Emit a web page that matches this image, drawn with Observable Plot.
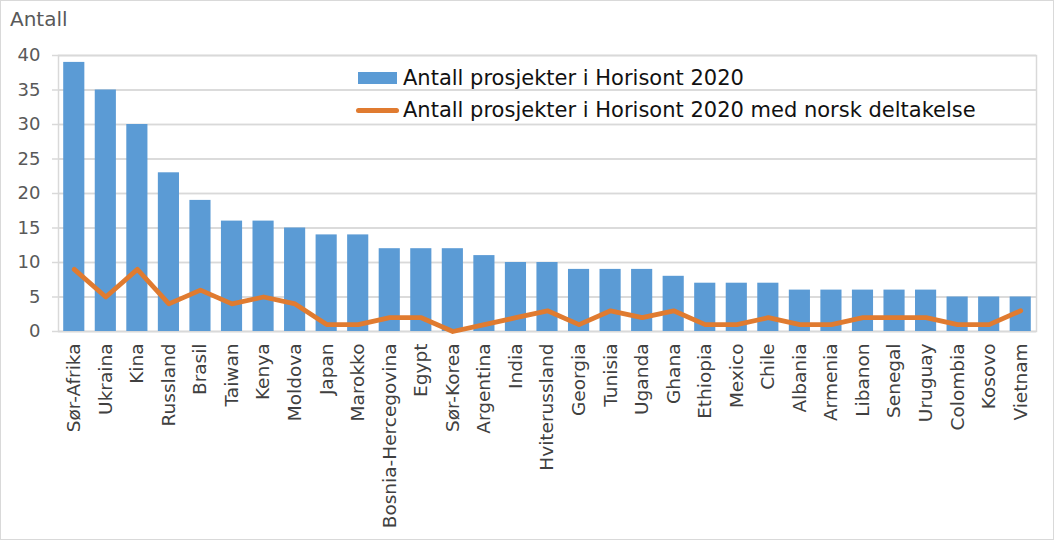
<!DOCTYPE html>
<html><head><meta charset="utf-8">
<script src="https://cdn.jsdelivr.net/npm/d3@7"></script>
<script src="https://cdn.jsdelivr.net/npm/@observablehq/plot@0.6"></script>
<style>
body{margin:0;background:#fff;}
#wrap{position:relative;width:1054px;height:540px;overflow:hidden;font-family:"DejaVu Sans",Verdana,sans-serif;background:#fff;}
#frame{position:absolute;left:0;top:0;right:0;bottom:0;border:1px solid #d9d9d9;pointer-events:none;}
#chart{position:absolute;left:0;top:0;}
#ylab{position:absolute;left:10px;top:7px;font-size:20px;color:#595959;}
#legend{position:absolute;left:356px;top:62px;font-size:21px;color:#111;}
.item{display:flex;align-items:center;height:32px;white-space:nowrap;}
.sw{width:39px;height:12px;background:#5B9BD5;margin-left:2px;margin-right:6px;}
.ln{width:43px;height:5px;border-radius:3px;background:#E07B30;margin-right:4px;}
</style></head>
<body>
<div id="wrap">
  <div id="chart"></div>
  <div id="ylab">Antall</div>
  <div id="legend"></div>
  <div id="frame"></div>
</div>
<script>
const countries = ["Sør-Afrika","Ukraina","Kina","Russland","Brasil","Taiwan","Kenya","Moldova","Japan","Marokko","Bosnia-Hercegovina","Egypt","Sør-Korea","Argentina","India","Hviterussland","Georgia","Tunisia","Uganda","Ghana","Ethiopia","Mexico","Chile","Albania","Armenia","Libanon","Senegal","Uruguay","Colombia","Kosovo","Vietnam"];
const total = [39,35,30,23,19,16,16,15,14,14,12,12,12,11,10,10,9,9,9,8,7,7,7,6,6,6,6,6,5,5,5];
const norsk = [9,5,9,4,6,4,5,4,1,1,2,2,0,1,2,3,1,3,2,3,1,1,2,1,1,2,2,2,1,1,3];
const yTicks = [0,5,10,15,20,25,30,35,40];
const seriesNames = ["Antall prosjekter i Horisont 2020","Antall prosjekter i Horisont 2020 med norsk deltakelse"];
const colors = ["#5B9BD5","#E07B30"];

const data = countries.map((c,i)=>({country:c,total:total[i],norsk:norsk[i]}));

const chart = Plot.plot({
  width:1054, height:540,
  marginLeft:58, marginRight:18, marginTop:55, marginBottom:209,
  style:{fontFamily:"'DejaVu Sans', Verdana, sans-serif", background:"transparent", color:"#404040"},
  x:{domain:countries, paddingInner:0.33, paddingOuter:0.165, round:false, axis:null, label:null},
  y:{domain:[0,40], axis:null, label:null},
  marks:[
    Plot.gridY(yTicks,{stroke:"#d9d9d9", strokeOpacity:1, strokeWidth:1.5}),
    Plot.tickY(yTicks,{y:d=>d, stroke:"#d9d9d9", strokeWidth:1.5, dx:0, insetLeft:-6, x:null}),
    Plot.frame({stroke:"#d9d9d9", strokeWidth:1.5}),
    Plot.barY(data,{x:"country", y:"total", fill:colors[0]}),
    Plot.line(data,{x:"country", y:"norsk", stroke:colors[1], strokeWidth:4.8, strokeLinejoin:"round", strokeLinecap:"round"}),
    Plot.axisY({ticks:yTicks, tickSize:0, tickPadding:18, fontSize:18, fill:"#595959", label:null}),
    Plot.axisX({tickSize:0, tickPadding:12, tickRotate:-90, fontSize:18.5, fill:"#404040", label:null})
  ]
});
document.getElementById("chart").appendChild(chart);

const lg = document.getElementById("legend");
seriesNames.forEach((s,i)=>{
  const it = document.createElement("div"); it.className="item";
  const m = document.createElement("div"); m.className = i===0?"sw":"ln";
  const t = document.createElement("span"); t.textContent = s;
  it.appendChild(m); it.appendChild(t); lg.appendChild(it);
});
</script>
</body></html>
